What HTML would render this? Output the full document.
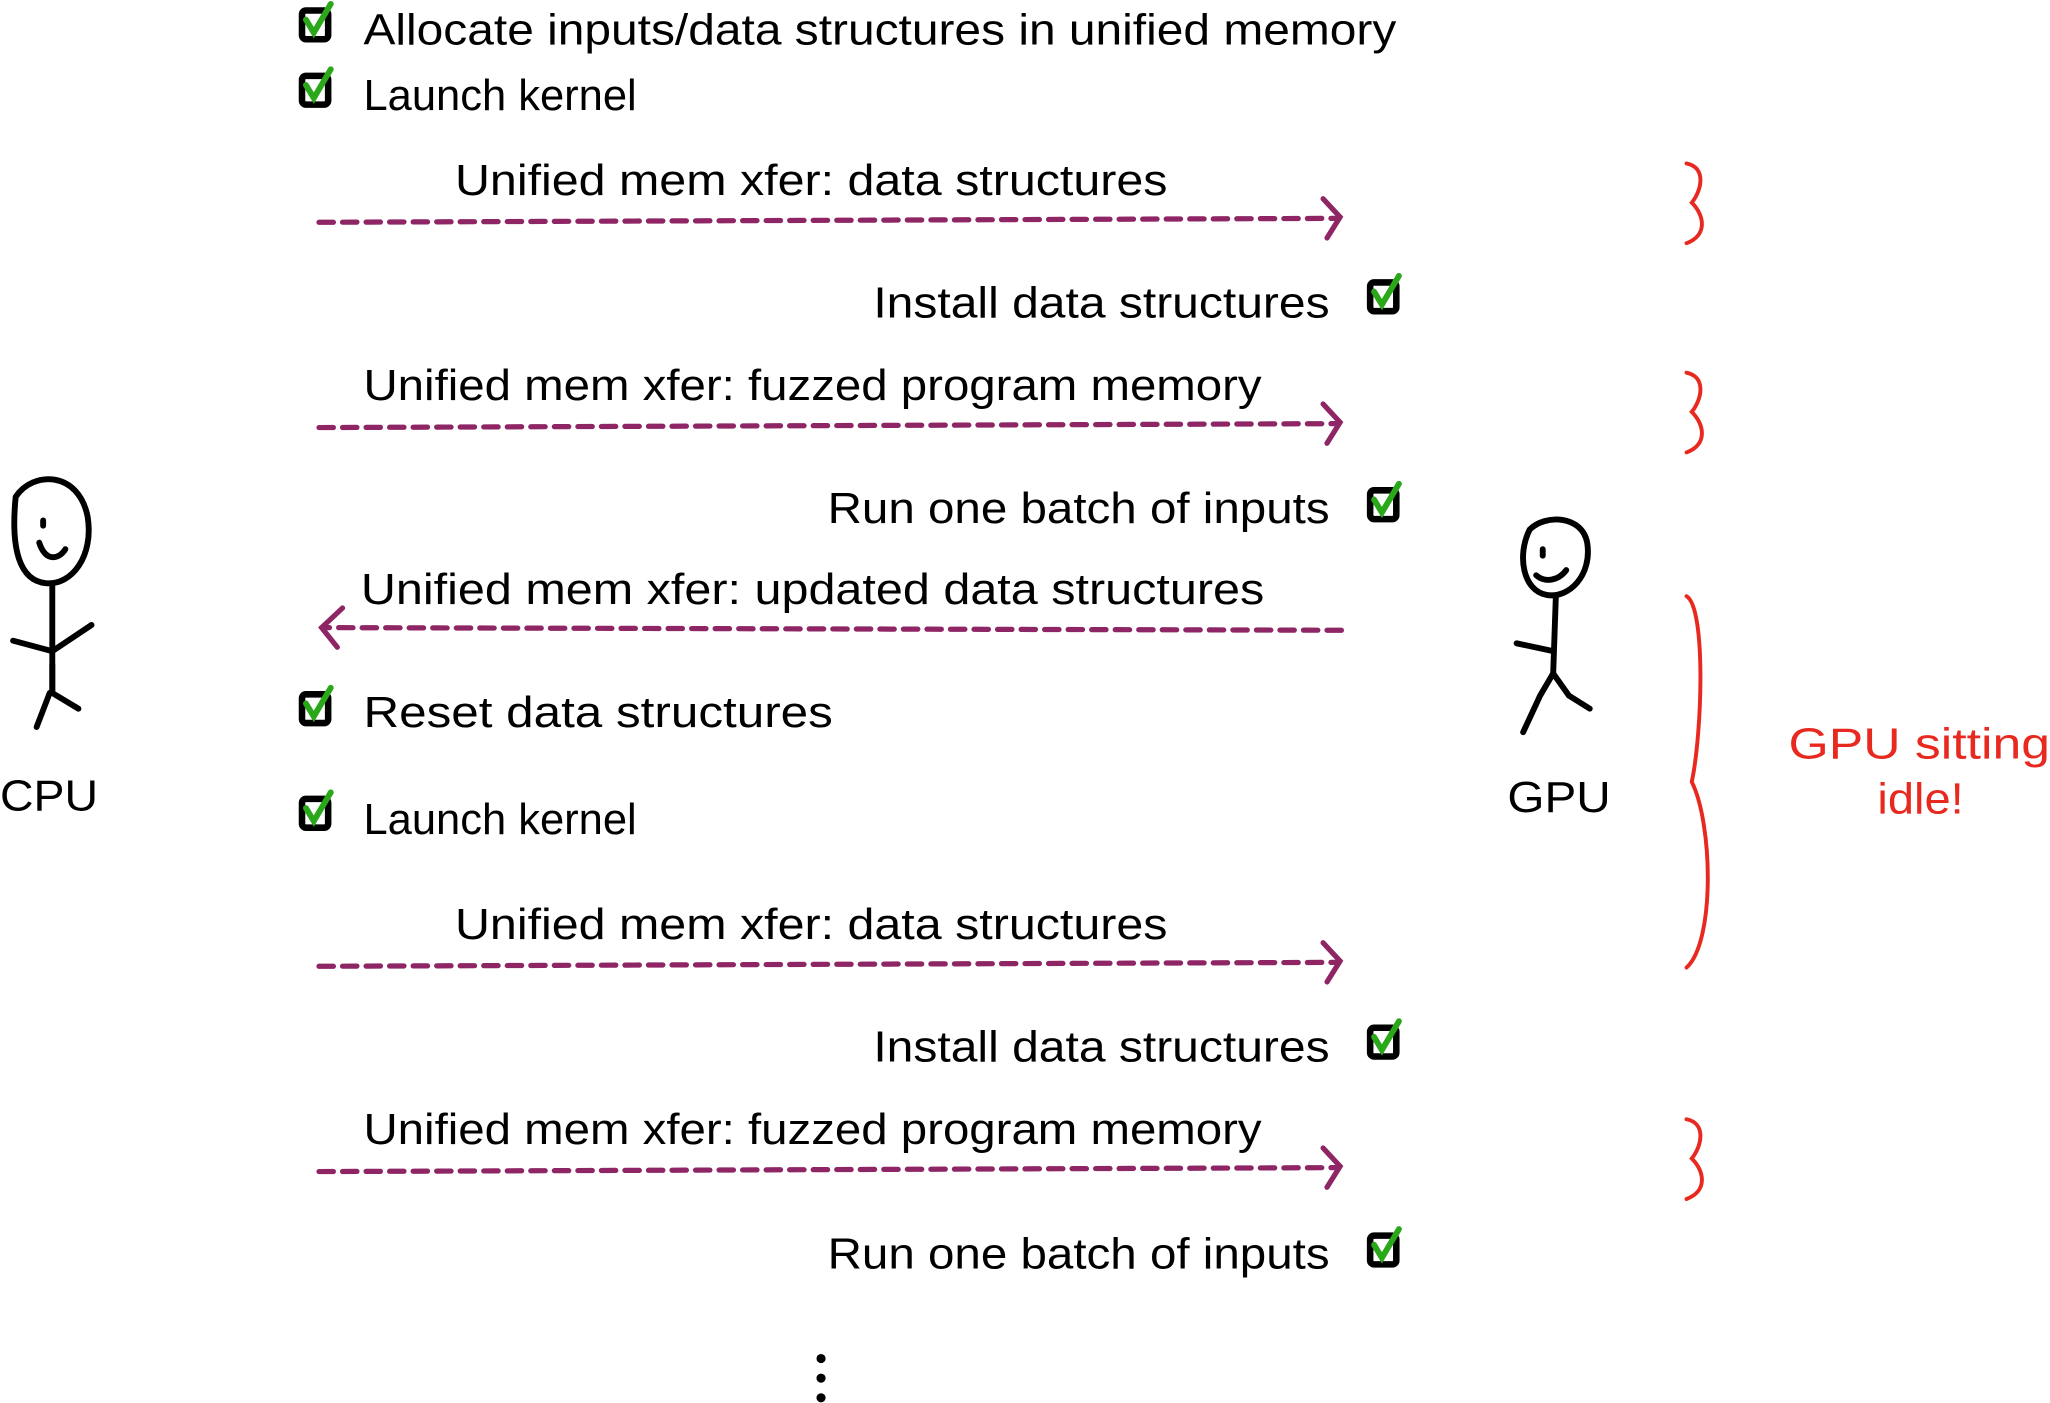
<!DOCTYPE html>
<html><head><meta charset="utf-8"><style>
html,body{margin:0;padding:0;background:#fff;}
svg{display:block;}
text{font-family:"Liberation Sans",sans-serif;font-size:33px;fill:#000;}
.r{fill:#e8291f;}
</style></head><body>
<svg width="2050" height="1403" viewBox="0 0 1568 1073" preserveAspectRatio="none" xmlns="http://www.w3.org/2000/svg">
<defs>
<g id="cb">
<rect x="2" y="5" width="20" height="22" rx="3" fill="none" stroke="#000" stroke-width="5"/>
<path d="M5 12 L11 22 L24 0" fill="none" stroke="#2aa81a" stroke-width="4.5" stroke-linecap="round"/>
</g>
</defs>
<g stroke="#8e2564" stroke-width="4" fill="none" stroke-linecap="round">
<path d="M244 170 L1022 167" stroke-dasharray="11 7"/><path d="M1012 152 L1025 166 L1015 182"/>
<path d="M244 327 L1022 324" stroke-dasharray="11 7"/><path d="M1012 309 L1025 323 L1015 339"/>
<path d="M1026 482 L250 480" stroke-dasharray="11 7"/><path d="M262 465 L246 480 L258 495"/>
<path d="M244 739 L1022 736" stroke-dasharray="11 7"/><path d="M1012 721 L1025 735 L1015 751"/>
<path d="M244 896 L1022 893" stroke-dasharray="11 7"/><path d="M1012 878 L1025 892 L1015 908"/>
</g>
<use href="#cb" x="229" y="3"/>
<use href="#cb" x="229" y="53"/>
<use href="#cb" x="1046" y="211"/>
<use href="#cb" x="1046" y="370"/>
<use href="#cb" x="229" y="526"/>
<use href="#cb" x="229" y="606"/>
<use href="#cb" x="1046" y="781"/>
<use href="#cb" x="1046" y="940"/>
<text x="278" y="34" textLength="790" lengthAdjust="spacingAndGlyphs">Allocate inputs/data structures in unified memory</text>
<text x="278" y="84" textLength="209" lengthAdjust="spacingAndGlyphs">Launch kernel</text>
<text x="348" y="149" textLength="545" lengthAdjust="spacingAndGlyphs">Unified mem xfer: data structures</text>
<text x="668" y="243" textLength="349" lengthAdjust="spacingAndGlyphs">Install data structures</text>
<text x="278" y="306" textLength="687" lengthAdjust="spacingAndGlyphs">Unified mem xfer: fuzzed program memory</text>
<text x="633" y="400" textLength="384" lengthAdjust="spacingAndGlyphs">Run one batch of inputs</text>
<text x="276" y="462" textLength="691" lengthAdjust="spacingAndGlyphs">Unified mem xfer: updated data structures</text>
<text x="278" y="556" textLength="359" lengthAdjust="spacingAndGlyphs">Reset data structures</text>
<text x="278" y="638" textLength="209" lengthAdjust="spacingAndGlyphs">Launch kernel</text>
<text x="348" y="718" textLength="545" lengthAdjust="spacingAndGlyphs">Unified mem xfer: data structures</text>
<text x="668" y="812" textLength="349" lengthAdjust="spacingAndGlyphs">Install data structures</text>
<text x="278" y="875" textLength="687" lengthAdjust="spacingAndGlyphs">Unified mem xfer: fuzzed program memory</text>
<text x="633" y="970" textLength="384" lengthAdjust="spacingAndGlyphs">Run one batch of inputs</text>
<circle cx="628" cy="1039" r="3.5"/><circle cx="628" cy="1054" r="3.5"/><circle cx="628" cy="1069" r="3.5"/>
<g stroke="#000" stroke-width="4.5" fill="none" stroke-linecap="round">
<path d="M12 380 C25 360 60 360 67 395 C72 425 55 448 35 446 C15 444 8 420 12 380 Z"/>
<path d="M30 415 C35 430 45 428 50 420"/><path d="M33 398 L33 402"/>
<path d="M40 448 L40 530"/><path d="M10 490 L40 498 L70 478"/>
<path d="M40 508 L40 530 L60 542"/><path d="M38 530 L28 556"/>
<path d="M1170 405 C1182 393 1210 394 1214 415 C1218 440 1200 458 1183 455 C1165 452 1160 425 1170 405 Z"/>
<path d="M1175 440 C1182 446 1192 444 1198 436"/><path d="M1180 420 L1180 425"/>
<path d="M1190 457 L1188 515"/><path d="M1160 492 L1188 498"/>
<path d="M1188 515 L1178 532 L1165 560"/><path d="M1188 515 L1200 532 L1216 542"/>
</g>
<text x="0" y="620" textLength="75" lengthAdjust="spacingAndGlyphs">CPU</text>
<text x="1153" y="621" textLength="79" lengthAdjust="spacingAndGlyphs">GPU</text>
<g stroke="#e8291f" stroke-width="3" fill="none" stroke-linecap="round">
<path d="M1290 125 C1305 128 1302 145 1294 155 C1304 165 1306 180 1290 186"/>
<path d="M1290 285 C1305 288 1302 305 1294 315 C1304 325 1306 340 1290 346"/>
<path d="M1290 456 C1305 465 1302 560 1294 598 C1310 630 1312 720 1290 740"/>
<path d="M1290 856 C1305 859 1302 876 1294 886 C1304 896 1306 911 1290 917"/>
</g>
<text class="r" x="1368" y="580" textLength="200" lengthAdjust="spacingAndGlyphs">GPU sitting</text>
<text class="r" x="1436" y="622" textLength="66" lengthAdjust="spacingAndGlyphs">idle!</text>
</svg>
</body></html>
